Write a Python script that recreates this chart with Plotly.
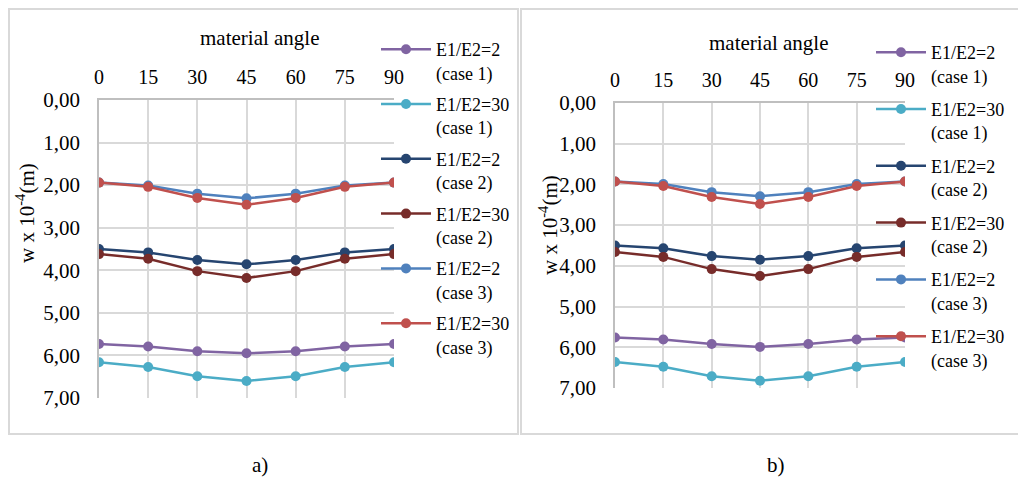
import plotly.graph_objects as go

angles = [0, 15, 30, 45, 60, 75, 90]
y_ticks = [0, 1, 2, 3, 4, 5, 6, 7]

series_names = ["E1/E2=2<br>(case 1)", "E1/E2=30<br>(case 1)", "E1/E2=2<br>(case 2)",
                "E1/E2=30<br>(case 2)", "E1/E2=2<br>(case 3)", "E1/E2=30<br>(case 3)"]
series_colors = ["#8064A2", "#4BACC6", "#264570", "#772C2A", "#4F81BD", "#C0504D"]

# panel a)
purple_a = [5.73, 5.79, 5.90, 5.95, 5.90, 5.79, 5.73]
teal_a = [6.16, 6.27, 6.49, 6.60, 6.49, 6.27, 6.16]
navy_a = [3.50, 3.58, 3.76, 3.86, 3.76, 3.58, 3.50]
dred_a = [3.62, 3.73, 4.02, 4.18, 4.02, 3.73, 3.62]
blue_a = [1.94, 2.01, 2.20, 2.31, 2.20, 2.01, 1.94]
red_a = [1.94, 2.04, 2.30, 2.46, 2.30, 2.04, 1.94]

# panel b)
purple_b = [5.76, 5.81, 5.92, 5.99, 5.92, 5.81, 5.76]
teal_b = [6.36, 6.48, 6.71, 6.82, 6.71, 6.48, 6.36]
navy_b = [3.50, 3.57, 3.76, 3.85, 3.76, 3.57, 3.50]
dred_b = [3.66, 3.78, 4.08, 4.25, 4.08, 3.78, 3.66]
blue_b = [1.93, 1.99, 2.19, 2.29, 2.19, 1.99, 1.93]
red_b = [1.93, 2.04, 2.31, 2.48, 2.31, 2.04, 1.93]

panel_a = [purple_a, teal_a, navy_a, dred_a, blue_a, red_a]
panel_b = [purple_b, teal_b, navy_b, dred_b, blue_b, red_b]

# page body has an 8px margin: the figure is placed at (8, 8)
OFF = 8
W, H = 1026 - OFF, 485 - OFF
FONT = "Times New Roman, Liberation Serif, DejaVu Serif, serif"

def px_x(p):
    return (p - OFF) / W

def px_y(p):
    return 1 - (p - OFF) / H

fig = go.Figure()

for i, (name, color) in enumerate(zip(series_names, series_colors)):
    fig.add_trace(go.Scatter(
        x=angles, y=panel_a[i], name=name, mode="lines+markers",
        line=dict(color=color, width=2.5), marker=dict(color=color, size=10),
        xaxis="x", yaxis="y", legend="legend", legendgroup="a%d" % i,
    ))
for i, (name, color) in enumerate(zip(series_names, series_colors)):
    fig.add_trace(go.Scatter(
        x=angles, y=panel_b[i], name=name, mode="lines+markers",
        line=dict(color=color, width=2.5), marker=dict(color=color, size=10),
        xaxis="x2", yaxis="y2", legend="legend2", legendgroup="b%d" % i,
    ))

def xaxis_cfg(dom, anchor):
    return dict(
        domain=dom, anchor=anchor, side="top", range=[0, 90], automargin=False,
        tickvals=angles, ticktext=[str(a) for a in angles],
        showgrid=True, gridcolor="#d9d9d9", gridwidth=1.5,
        showline=True, linecolor="#bfbfbf", linewidth=1.5,
        ticks="", ticklabelstandoff=6, zeroline=False,
        tickfont=dict(family=FONT, size=20, color="#000"),
    )

def yaxis_cfg(dom, anchor):
    return dict(
        domain=dom, anchor=anchor, range=[7, 0], automargin=False,
        tickvals=y_ticks, tickformat=".2f",
        showgrid=True, gridcolor="#d9d9d9", gridwidth=1.5,
        showline=True, linecolor="#bfbfbf", linewidth=1.5,
        ticks="", ticklabelstandoff=13, zeroline=False,
        tickfont=dict(family=FONT, size=21, color="#000"),
    )

legend_common = dict(
    font=dict(family=FONT, size=18, color="#000"),
    bgcolor="rgba(0,0,0,0)", valign="top",
    xanchor="left", yanchor="top", itemwidth=50,
)

def label(text, x, y, size, angle=0):
    return dict(text=text, x=px_x(x), y=px_y(y), xref="paper", yref="paper", showarrow=False,
                xanchor="center", yanchor="middle", textangle=angle,
                font=dict(family=FONT, size=size, color="#000"))

fig.update_layout(
    width=W, height=H, margin=dict(l=0, r=0, t=0, b=0, autoexpand=False),
    paper_bgcolor="white", plot_bgcolor="white",
    separators=", ",
    xaxis=xaxis_cfg([px_x(99), px_x(394)], "y"),
    yaxis=yaxis_cfg([px_y(398), px_y(100)], "x"),
    xaxis2=xaxis_cfg([px_x(615), px_x(905)], "y2"),
    yaxis2=yaxis_cfg([px_y(388), px_y(103)], "x2"),
    legend=dict(x=px_x(376), y=px_y(31), tracegroupgap=5, **legend_common),
    legend2=dict(x=px_x(871), y=px_y(34), tracegroupgap=7, **legend_common),
    shapes=[
        dict(type="rect", xref="paper", yref="paper", x0=px_x(9), x1=px_x(518), y0=px_y(434), y1=px_y(9),
             line=dict(color="#d9d9d9", width=2), layer="below"),
        dict(type="rect", xref="paper", yref="paper", x0=px_x(521), x1=px_x(1023), y0=px_y(434), y1=px_y(9),
             line=dict(color="#d9d9d9", width=2), layer="below"),
    ],
    annotations=[
        label("material angle", 260, 38, 21),
        label("material angle", 769, 43, 21),
        label("w x 10<sup>-4</sup>(m)", 25, 213, 21, -90),
        label("w x 10<sup>-4</sup>(m)", 548, 225, 21, -90),
        label("a)", 260, 465, 21),
        label("b)", 776, 465, 21),
    ],
)

fig.write_html("out.html")
